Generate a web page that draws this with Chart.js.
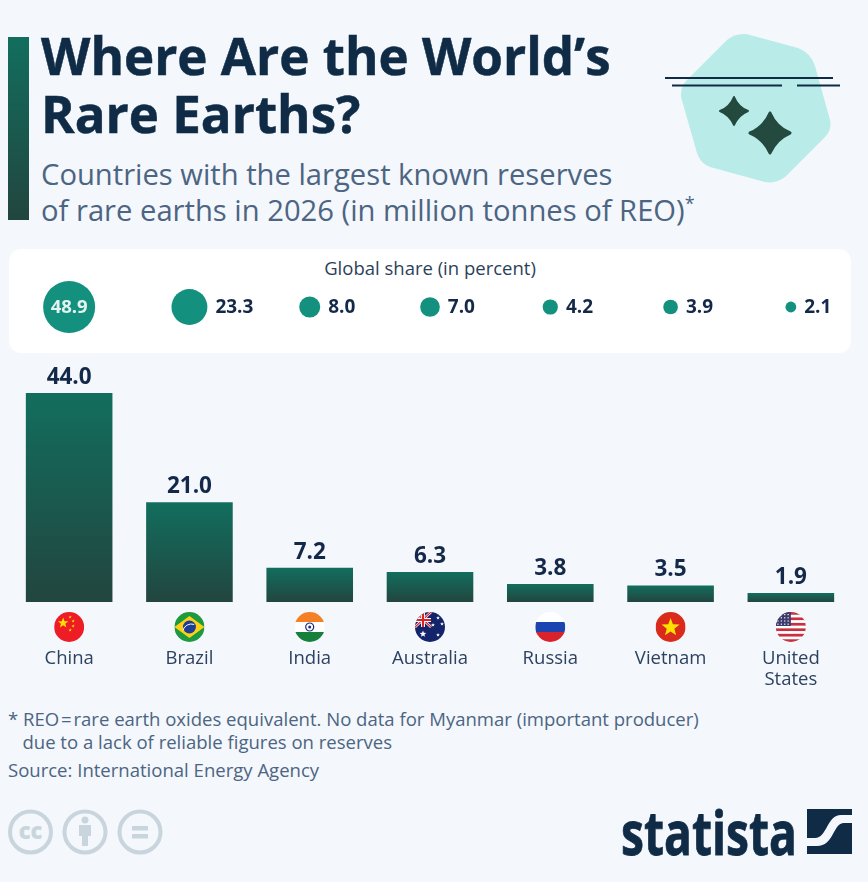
<!DOCTYPE html>
<html>
<head>
<meta charset="utf-8">
<title>Where Are the World's Rare Earths?</title>
<script src="https://cdn.jsdelivr.net/npm/chart.js@4"></script>
<style>
  html, body { margin: 0; padding: 0; background: #f4f7fb; }
  body { width: 868px; height: 882px; position: relative; overflow: hidden; font-family: "Open Sans", sans-serif; }
  .abs { position: absolute; white-space: nowrap; }
  #accent { left: 8px; top: 37px; width: 21px; height: 183px; background: linear-gradient(#126e5e, #22453f); }
  #title { left: 41px; top: 26px; font-size: 51.1px; line-height: 58px; font-weight: 700; color: #0f2b46; -webkit-text-stroke: 0.5px #0f2b46; }
  #subtitle { left: 41px; top: 156px; font-size: 29.2px; line-height: 36px; color: #4c6583; }
  #subtitle sup { font-size: 18px; line-height: 0; }
  #card { left: 9px; top: 249px; width: 842px; height: 104px; background: #fff; border-radius: 12px; }
  #shareTitle { left: 9px; width: 842px; top: 256px; text-align: center; font-size: 18.5px; line-height: 24px; color: #2c3f5a; }
  #shareWrap { left: 9px; top: 249px; width: 842px; height: 104px; }
  #barWrap { left: 9px; top: 360px; width: 842px; height: 335px; }
  #note { left: 8px; top: 707px; font-size: 18.55px; line-height: 23px; color: #4c6583; }
  #source { left: 8px; top: 758px; font-size: 18.55px; line-height: 24px; color: #4c6583; }
  #logo { left: 621px; top: 794px; font-size: 60px; line-height: 76px; font-weight: 700; color: #0f2b46; -webkit-text-stroke: 0.8px #0f2b46; transform: scaleX(.77); transform-origin: left; }
</style>
</head>
<body>
<div class="abs" id="accent"></div>
<div class="abs" id="title">Where Are the World’s<br>Rare Earths?</div>
<div class="abs" id="subtitle">Countries with the largest known reserves<br>of rare earths in 2026 (in million tonnes of REO)<sup>*</sup></div>

<svg class="abs" style="left:655px;top:25px" width="195" height="165" viewBox="655 25 195 165">
  <path d="M727 40 Q735 33 746 34 L798 48 Q811 53 815 66 L830 120 Q832 130 825 137 L785 177 Q776 184 765 182 L710 167 Q700 163 697 153 L681 97 Q680 87 687 80 Z" fill="#b9ece8"/>
  <path d="M665 78H833M672 85.5H782M797 85.5H840" stroke="#0f2b46" stroke-width="2" fill="none"/>
  <path d="M734 97 Q738 107 748 111 Q738 115 734 125 Q730 115 720 111 Q730 107 734 97Z" fill="#24493f" stroke="#24493f" stroke-width="2" stroke-linejoin="round"/>
  <path d="M770 113 Q776 127 790 133 Q776 139 770 153 Q764 139 750 133 Q764 127 770 113Z" fill="#24493f" stroke="#24493f" stroke-width="3" stroke-linejoin="round"/>
</svg>

<div class="abs" id="card"></div>
<div class="abs" id="shareTitle">Global share (in percent)</div>
<div class="abs" id="shareWrap"><canvas id="shareChart"></canvas></div>
<div class="abs" id="barWrap"><canvas id="barChart"></canvas></div>

<div class="abs" id="note">* REO&#8202;=&#8202;rare earth oxides equivalent. No data for Myanmar (important producer)<br>&nbsp;&nbsp;&nbsp;due to a lack of reliable figures on reserves</div>
<div class="abs" id="source">Source: International Energy Agency</div>

<svg class="abs" style="left:6px;top:808px" width="160" height="48" viewBox="6 808 160 48">
  <g fill="none" stroke="#c9d5dd" stroke-width="4">
    <circle cx="30.5" cy="832" r="20.5"/><circle cx="85" cy="832" r="20.5"/><circle cx="140" cy="832" r="20.5"/>
  </g>
  <text x="30.5" y="839" text-anchor="middle" font-family="Open Sans" font-weight="800" font-size="22" fill="#c9d5dd">cc</text>
  <circle cx="85" cy="820" r="3.5" fill="#c9d5dd"/>
  <path d="M79 825H91V836H88V846H82V836H79Z" fill="#c9d5dd"/>
  <path d="M132 826H148V830.5H132ZM132 834H148V838.5H132Z" fill="#c9d5dd"/>
</svg>

<div class="abs" id="logo">statista</div>
<svg class="abs" style="left:807px;top:809px" width="45" height="45" viewBox="0 0 45 45">
  <rect width="45" height="45" fill="#0f2b46"/>
  <path d="M0 29 H8 C20 29 20 6 34 6 H45 V14 H37 C26 14 27 37 10 37 H0 Z" fill="#f4f7fb"/>
</svg>

<script>
const countries = ["China", "Brazil", "India", "Australia", "Russia", "Vietnam", ["United", "States"]];
const reserves = [44.0, 21.0, 7.2, 6.3, 3.8, 3.5, 1.9];
const shares = [48.9, 23.3, 8.0, 7.0, 4.2, 3.9, 2.1];

function star(ctx, x, y, r, color, rot) {
  ctx.save();
  ctx.translate(x, y);
  ctx.rotate(rot || 0);
  ctx.fillStyle = color;
  ctx.beginPath();
  for (let i = 0; i < 10; i++) {
    const a = -Math.PI / 2 + i * Math.PI / 5;
    const rr = i % 2 ? r * 0.42 : r;
    ctx.lineTo(Math.cos(a) * rr, Math.sin(a) * rr);
  }
  ctx.closePath();
  ctx.fill();
  ctx.restore();
}

function stripes(ctx, colors) {
  const h = 30 / colors.length;
  colors.forEach((c, i) => {
    ctx.fillStyle = c;
    ctx.fillRect(-15, -15 + i * h, 30, h + 0.5);
  });
}

// flags are painted around (0,0) inside a circle of radius 15
const flagPainters = [
  ctx => {
    ctx.fillStyle = "#ee1c25";
    ctx.fillRect(-15, -15, 30, 30);
    star(ctx, -6, -4, 5.5, "#ffde00");
    star(ctx, 1, -10, 1.8, "#ffde00");
    star(ctx, 4, -6, 1.8, "#ffde00");
    star(ctx, 4, -1, 1.8, "#ffde00");
    star(ctx, 1, 3, 1.8, "#ffde00");
  },
  ctx => {
    ctx.fillStyle = "#1c9a3f";
    ctx.fillRect(-15, -15, 30, 30);
    ctx.fillStyle = "#fcd116";
    ctx.beginPath();
    ctx.moveTo(-15, 0); ctx.lineTo(0, -11); ctx.lineTo(15, 0); ctx.lineTo(0, 11);
    ctx.closePath();
    ctx.fill();
    ctx.fillStyle = "#1b3f94";
    ctx.beginPath();
    ctx.arc(0, 0, 6.5, 0, Math.PI * 2);
    ctx.fill();
    ctx.strokeStyle = "#fff";
    ctx.lineWidth = 1;
    ctx.beginPath();
    ctx.arc(2, 6, 9, Math.PI * 1.1, Math.PI * 1.6);
    ctx.stroke();
  },
  ctx => {
    stripes(ctx, ["#f47f25", "#ffffff", "#14803a"]);
    ctx.strokeStyle = "#1d2f7a";
    ctx.lineWidth = 1.2;
    ctx.beginPath();
    ctx.arc(0, 0, 4, 0, Math.PI * 2);
    ctx.stroke();
    ctx.fillStyle = "#1d2f7a";
    ctx.beginPath();
    ctx.arc(0, 0, 1.5, 0, Math.PI * 2);
    ctx.fill();
  },
  ctx => {
    ctx.fillStyle = "#14246b";
    ctx.fillRect(-15, -15, 30, 30);
    ctx.strokeStyle = "#fff";
    ctx.lineWidth = 2.5;
    ctx.beginPath();
    ctx.moveTo(-15, -15); ctx.lineTo(1, 0);
    ctx.moveTo(1, -15); ctx.lineTo(-15, 0);
    ctx.stroke();
    ctx.strokeStyle = "#d8232a";
    ctx.lineWidth = 1.2;
    ctx.stroke();
    ctx.lineWidth = 4;
    ctx.strokeStyle = "#fff";
    ctx.beginPath();
    ctx.moveTo(-7, -15); ctx.lineTo(-7, 0);
    ctx.moveTo(-15, -7); ctx.lineTo(1, -7);
    ctx.stroke();
    ctx.lineWidth = 2.2;
    ctx.strokeStyle = "#d8232a";
    ctx.stroke();
    star(ctx, -7, 7, 3.5, "#fff");
    star(ctx, 8, -9, 2, "#fff");
    star(ctx, 3, -2, 2, "#fff");
    star(ctx, 12, -3, 2, "#fff");
    star(ctx, 8, 8, 2, "#fff");
  },
  ctx => stripes(ctx, ["#ffffff", "#1c44b0", "#d8232a"]),
  ctx => {
    ctx.fillStyle = "#da2a1c";
    ctx.fillRect(-15, -15, 30, 30);
    star(ctx, 0, 0.5, 9.5, "#ffe000");
  },
  ctx => {
    stripes(ctx, ["#c8303f", "#fff", "#c8303f", "#fff", "#c8303f", "#fff", "#c8303f", "#fff", "#c8303f", "#fff", "#c8303f"]);
    ctx.fillStyle = "#3c3b6e";
    ctx.fillRect(-15, -15, 15, 14);
    ctx.fillStyle = "#fff";
    for (let r = 0; r < 4; r++) {
      for (let c = 0; c < 4; c++) {
        ctx.fillRect(-13.5 + c * 3.4, -13 + r * 3.2, 1.2, 1.2);
      }
    }
  }
];

const valueLabels = {
  id: "valueLabels",
  afterDatasetsDraw(chart) {
    const { ctx } = chart;
    ctx.save();
    ctx.font = "700 22.5px 'Open Sans'";
    ctx.fillStyle = "#14294a";
    ctx.textAlign = "center";
    ctx.textBaseline = "alphabetic";
    chart.getDatasetMeta(0).data.forEach((bar, i) => {
      ctx.fillText(reserves[i].toFixed(1), bar.x, bar.y - 9);
    });
    ctx.restore();
  }
};

const flags = {
  id: "flags",
  afterDraw(chart) {
    const { ctx, chartArea, scales } = chart;
    flagPainters.forEach((paint, i) => {
      ctx.save();
      ctx.translate(scales.x.getPixelForTick(i), chartArea.bottom + 25);
      ctx.beginPath();
      ctx.arc(0, 0, 15, 0, Math.PI * 2);
      ctx.clip();
      paint(ctx);
      ctx.restore();
    });
  }
};

const shareLabels = {
  id: "shareLabels",
  afterDatasetsDraw(chart) {
    const { ctx } = chart;
    ctx.save();
    ctx.textBaseline = "middle";
    chart.getDatasetMeta(0).data.forEach((pt, i) => {
      const txt = shares[i].toFixed(1);
      if (i === 0) {
        ctx.font = "700 18.5px 'Open Sans'";
        ctx.fillStyle = "#e4f3f0";
        ctx.textAlign = "center";
        ctx.fillText(txt, pt.x, pt.y + 1);
      } else {
        ctx.font = "700 19px 'Open Sans'";
        ctx.fillStyle = "#14294a";
        ctx.textAlign = "left";
        ctx.fillText(txt, pt.x + bubbleRadius(shares[i]) + 8, pt.y + 1);
      }
    });
    ctx.restore();
  }
};

// bubble area follows the share
function bubbleRadius(v) {
  return 3.72 * Math.sqrt(v);
}

new Chart(document.getElementById("shareChart"), {
  type: "bubble",
  data: {
    datasets: [{
      data: shares.map((v, i) => ({ x: i, y: 0, r: bubbleRadius(v) })),
      backgroundColor: "#14907f",
      borderWidth: 0,
      hoverRadius: 0
    }]
  },
  options: {
    responsive: true,
    maintainAspectRatio: false,
    animation: false,
    layout: { autoPadding: false, padding: { top: 12 } },
    plugins: { legend: { display: false }, tooltip: { enabled: false } },
    scales: {
      x: { type: "linear", min: -0.5, max: 6.5, display: false },
      y: { min: -1, max: 1, display: false }
    }
  },
  plugins: [shareLabels]
});

function barGradient(context) {
  const chart = context.chart;
  if (!chart.chartArea || context.raw === undefined) return "#1a5a4e";
  const top = chart.scales.y.getPixelForValue(context.raw);
  const g = chart.ctx.createLinearGradient(0, top, 0, chart.chartArea.bottom);
  g.addColorStop(0, "#126e5e");
  g.addColorStop(1, "#22453f");
  return g;
}

new Chart(document.getElementById("barChart"), {
  type: "bar",
  data: {
    labels: countries,
    datasets: [{
      data: reserves,
      backgroundColor: barGradient,
      categoryPercentage: 0.72,
      barPercentage: 1
    }]
  },
  options: {
    responsive: true,
    maintainAspectRatio: false,
    animation: false,
    layout: { autoPadding: false, padding: { top: 33 } },
    plugins: { legend: { display: false }, tooltip: { enabled: false } },
    scales: {
      x: {
        grid: { display: false },
        border: { display: false },
        afterFit: s => { s.height = 93; s.paddingLeft = 0; s.paddingRight = 0; },
        ticks: {
          padding: 38,
          maxRotation: 0,
          autoSkip: false,
          color: "#2c4260",
          font: { family: "'Open Sans'", size: 18.5, lineHeight: 1.15 }
        }
      },
      y: { min: 0, max: 44, display: false }
    }
  },
  plugins: [valueLabels, flags]
});
</script>
</body>
</html>
